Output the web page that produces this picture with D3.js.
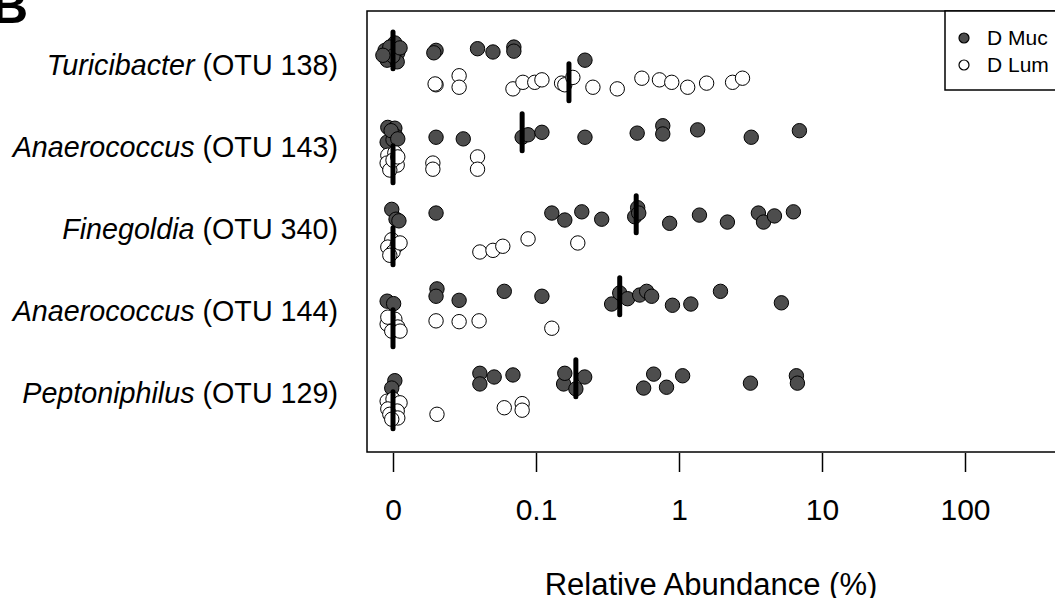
<!DOCTYPE html>
<html>
<head>
<meta charset="utf-8">
<script src="https://cdn.jsdelivr.net/npm/d3@7"></script>
<style>
  html, body { margin: 0; padding: 0; background: #fff; }
  svg { display: block; font-family: "Liberation Sans", Arial, Helvetica, sans-serif; }
</style>
</head>
<body>
<div id="chart"></div>
<script>
/* ===== DATA ===== */
// zeros are drawn at the "0" tick (0.01) with a little horizontal scatter, as in the original
const taxa = ["Turicibacter", "Anaerococcus", "Finegoldia", "Anaerococcus", "Peptoniphilus"];
const otuIds = ["OTU 138", "OTU 143", "OTU 340", "OTU 144", "OTU 129"];
const seriesNames = ["D Muc", "D Lum"];
const tickValues = [0.01, 0.1, 1, 10, 100];
const tickLabels = ["0", "0.1", "1", "10", "100"];

const mucValues = [
    [0.0088, 0.0103, 0.0108, 0.0091, 0.0107, 0.0095, 0.01, 0.0085, 0.0112, 0.020, 0.0193, 0.039, 0.050, 0.070, 0.070, 0.22],
    [0.0092, 0.0103, 0.0091, 0.0105, 0.01, 0.0097, 0.0108, 0.020, 0.031, 0.080, 0.088, 0.11, 0.22, 0.51, 0.77, 0.77, 1.35, 3.2, 6.95],
    [0.0098, 0.0105, 0.011, 0.020, 0.129, 0.159, 0.209, 0.288, 0.49, 0.514, 0.523, 0.86, 1.39, 2.18, 3.59, 3.90, 4.65, 6.31],
    [0.0091, 0.0101, 0.0203, 0.020, 0.029, 0.060, 0.11, 0.338, 0.385, 0.437, 0.531, 0.594, 0.644, 0.90, 1.21, 1.95, 5.2],
    [0.0103, 0.0098, 0.0405, 0.0405, 0.051, 0.069, 0.156, 0.159, 0.190, 0.219, 0.566, 0.665, 0.818, 1.06, 3.16, 6.62, 6.73]
];
// vertical jitter of each point, in row units
const mucJitter = [
    [-0.18, -0.27, -0.15, -0.06, -0.04, -0.22, -0.11, -0.12, -0.21, -0.18, -0.15, -0.20, -0.16, -0.22, -0.17, -0.06],
    [-0.24, -0.23, -0.06, -0.13, -0.09, -0.20, -0.10, -0.12, -0.10, -0.12, -0.15, -0.18, -0.12, -0.17, -0.26, -0.16, -0.21, -0.12, -0.20],
    [-0.24, -0.12, -0.10, -0.195, -0.195, -0.11, -0.21, -0.12, -0.15, -0.26, -0.195, -0.07, -0.17, -0.085, -0.195, -0.085, -0.16, -0.21],
    [-0.12, -0.09, -0.27, -0.18, -0.13, -0.24, -0.18, -0.085, -0.22, -0.15, -0.195, -0.24, -0.18, -0.07, -0.085, -0.24, -0.10],
    [-0.15, -0.06, -0.24, -0.11, -0.195, -0.22, -0.11, -0.24, -0.05, -0.195, -0.06, -0.23, -0.07, -0.21, -0.12, -0.21, -0.12]
];

const lumValues = [
    [0.020, 0.0197, 0.029, 0.029, 0.069, 0.081, 0.098, 0.11, 0.151, 0.159, 0.181, 0.25, 0.37, 0.55, 0.73, 0.89, 1.15, 1.56, 2.37, 2.78],
    [0.0092, 0.0103, 0.0091, 0.0107, 0.0095, 0.01, 0.0108, 0.019, 0.019, 0.039, 0.039],
    [0.0098, 0.0092, 0.0107, 0.01, 0.0112, 0.0095, 0.0405, 0.050, 0.0586, 0.088, 0.196],
    [0.0091, 0.0103, 0.0108, 0.0098, 0.0112, 0.0092, 0.020, 0.029, 0.040, 0.129],
    [0.0091, 0.01, 0.0112, 0.0092, 0.0107, 0.0095, 0.0108, 0.0098, 0.0203, 0.060, 0.080, 0.080]
];
const lumJitter = [
    [0.24, 0.23, 0.13, 0.27, 0.29, 0.21, 0.21, 0.18, 0.22, 0.24, 0.15, 0.27, 0.29, 0.16, 0.18, 0.21, 0.27, 0.22, 0.21, 0.16],
    [0.10, 0.07, 0.195, 0.22, 0.28, 0.16, 0.12, 0.195, 0.27, 0.12, 0.27],
    [0.13, 0.22, 0.195, 0.28, 0.17, 0.32, 0.28, 0.26, 0.21, 0.12, 0.17],
    [0.16, 0.10, 0.195, 0.245, 0.245, 0.075, 0.12, 0.13, 0.12, 0.21],
    [0.10, 0.075, 0.12, 0.195, 0.22, 0.26, 0.305, 0.32, 0.26, 0.18, 0.13, 0.21]
];

/* ===== SETUP ===== */
const width = 1055;
const height = 598;
const zeroFloor = 0.0125; // anything below this is a zero read

const series = [
    { name: seriesNames[0], values: mucValues, jitter: mucJitter, fill: "#4d4d4d", offset: -0.18 },
    { name: seriesNames[1], values: lumValues, jitter: lumJitter, fill: "#ffffff", offset: 0.21 }
];

const svg = d3.select("#chart")
    .append("svg")
    .attr("width", width)
    .attr("height", height);

const x = d3.scaleLog().domain([0.01, 100]).range([393, 965]);
const y = d3.scaleLinear().domain([-0.66, 4.72]).range([11, 452]);

/* ===== PANEL LETTER (cut off at top) ===== */
svg.append("text")
    .attr("x", -8)
    .attr("y", 23)
    .attr("font-size", 50)
    .attr("font-weight", "bold")
    .text("B");

/* ===== POINTS ===== */
const pointsG = svg.append("g");
series.forEach((s) => {
    const pts = [];
    s.values.forEach((row, r) => {
        row.forEach((v, i) => pts.push({ v: v, r: r, j: s.jitter[r][i] }));
    });
    pointsG.append("g")
        .selectAll("circle")
        .data(pts)
        .enter()
        .append("circle")
        .attr("cx", (d) => x(d.v))
        .attr("cy", (d) => y(d.r + d.j))
        .attr("r", 7.2)
        .attr("fill", s.fill)
        .attr("stroke", "#000")
        .attr("stroke-width", 1);
});

/* ===== MEDIANS ===== */
const barHalf = 0.225;
series.forEach((s) => {
    const meds = s.values.map((row, r) => {
        const m = d3.median(row);
        return { m: m < zeroFloor ? 0.01 : m, r: r };
    });
    svg.append("g")
        .selectAll("line")
        .data(meds)
        .enter()
        .append("line")
        .attr("x1", (d) => x(d.m))
        .attr("x2", (d) => x(d.m))
        .attr("y1", (d) => y(d.r + s.offset - barHalf))
        .attr("y2", (d) => y(d.r + s.offset + barHalf))
        .attr("stroke", "#000")
        .attr("stroke-width", 5)
        .attr("stroke-linecap", "round");
});

/* ===== BOX ===== */
svg.append("rect")
    .attr("x", 367)
    .attr("y", 11)
    .attr("width", 700)
    .attr("height", 441)
    .attr("fill", "none")
    .attr("stroke", "#000")
    .attr("stroke-width", 1.5);

/* ===== X AXIS ===== */
const xAxis = d3.axisBottom(x)
    .tickValues(tickValues)
    .tickFormat((d, i) => tickLabels[i])
    .tickSize(19)
    .tickPadding(27);

const axisG = svg.append("g")
    .attr("transform", "translate(0,453)")
    .call(xAxis);
axisG.select(".domain").remove();
axisG.selectAll(".tick line").attr("stroke", "#000").attr("stroke-width", 1.5);
axisG.selectAll(".tick text")
    .attr("fill", "#000")
    .attr("font-size", 30)
    .attr("font-family", "Liberation Sans, Arial, sans-serif");

svg.append("text")
    .attr("x", 711)
    .attr("y", 595)
    .attr("text-anchor", "middle")
    .attr("font-size", 31)
    .text("Relative Abundance (%)");

/* ===== ROW LABELS ===== */
const labels = svg.append("g")
    .selectAll("text")
    .data(taxa)
    .enter()
    .append("text")
    .attr("x", 338)
    .attr("y", (d, i) => y(i) + 10)
    .attr("text-anchor", "end")
    .attr("font-size", 28.7);

labels.append("tspan")
    .attr("font-style", "italic")
    .text((d) => d);
labels.append("tspan")
    .text((d, i) => " (" + otuIds[i] + ")");

/* ===== LEGEND ===== */
const legend = svg.append("g");
legend.append("rect")
    .attr("x", 945)
    .attr("y", 11)
    .attr("width", 120)
    .attr("height", 79)
    .attr("fill", "#fff")
    .attr("stroke", "#000")
    .attr("stroke-width", 1.5);

series.forEach((s, i) => {
    legend.append("circle")
        .attr("cx", 964)
        .attr("cy", 38 + i * 27)
        .attr("r", 5)
        .attr("fill", s.fill)
        .attr("stroke", "#000")
        .attr("stroke-width", 1.2);
    legend.append("text")
        .attr("x", 987)
        .attr("y", 45 + i * 27)
        .attr("font-size", 21)
        .text(s.name);
});
</script>
</body>
</html>
